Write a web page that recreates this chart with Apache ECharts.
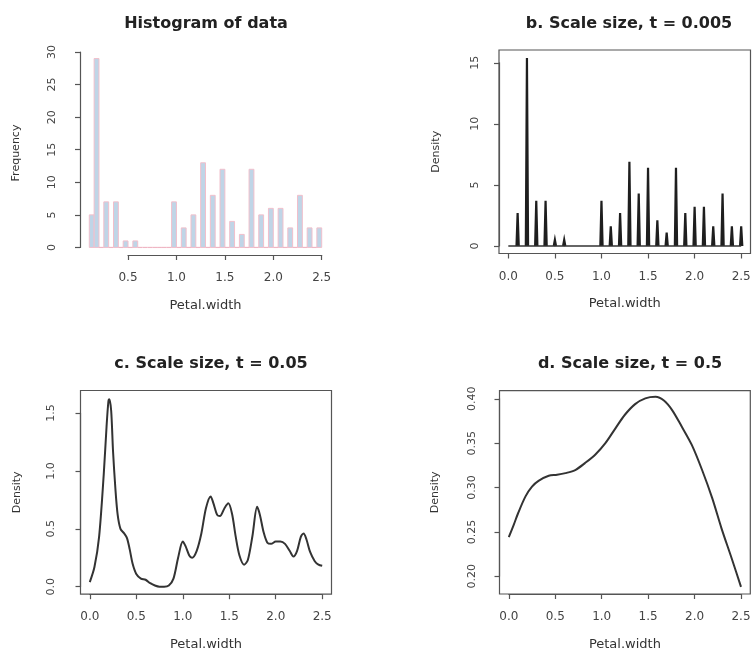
<!DOCTYPE html>
<html>
<head>
<meta charset="utf-8">
<script src="https://cdn.jsdelivr.net/npm/echarts@6/dist/echarts.min.js"></script>
<style>
  html, body { margin: 0; padding: 0; background: #fff; }
  #main { width: 753px; height: 652px; }
</style>
</head>
<body>
<div id="main"></div>
<script>
// iris Petal.width histogram (breaks of 0.05 from 0.1 to 2.5)
var histBreaks = [0.1, 0.15, 0.2, 0.25, 0.3, 0.35, 0.4, 0.45, 0.5, 0.55, 0.6, 0.65, 0.7, 0.75, 0.8, 0.85,
  0.9, 0.95, 1.0, 1.05, 1.1, 1.15, 1.2, 1.25, 1.3, 1.35, 1.4, 1.45, 1.5, 1.55, 1.6, 1.65, 1.7, 1.75,
  1.8, 1.85, 1.9, 1.95, 2.0, 2.05, 2.1, 2.15, 2.2, 2.25, 2.3, 2.35, 2.4, 2.45, 2.5];
var histCounts = [5, 29, 0, 7, 0, 7, 0, 1, 0, 1, 0, 0, 0, 0, 0, 0, 0, 7, 0, 3, 0, 5, 0, 13, 0, 8,
  0, 12, 0, 4, 0, 2, 0, 12, 0, 5, 0, 6, 0, 6, 0, 3, 0, 8, 0, 3, 0, 3];

// b. t = 0.005 : narrow spikes at each distinct value
var bSpikeX = [0.1, 0.2, 0.3, 0.4, 0.5, 0.6, 1.0, 1.1, 1.2, 1.3, 1.4, 1.5, 1.6, 1.7, 1.8, 1.9, 2.0, 2.1, 2.2, 2.3, 2.4, 2.5];
var bSpikeY = [2.7, 15.4, 3.7, 3.7, 0.5, 0.5, 3.7, 1.6, 2.7, 6.9, 4.3, 6.4, 2.1, 1.1, 6.4, 2.7, 3.2, 3.2, 1.6, 4.3, 1.6, 1.6];
var bBaseX = [0, 2.5];
var bBaseY = [0, 0];

// c. t = 0.05
var cX = [0, 0.05, 0.1, 0.15, 0.18, 0.2, 0.21, 0.23, 0.25, 0.275, 0.3, 0.33, 0.37, 0.4, 0.43, 0.46, 0.5,
  0.55, 0.6, 0.65, 0.7, 0.75, 0.8, 0.85, 0.9, 0.95, 1.0, 1.03, 1.07, 1.1, 1.15, 1.2, 1.25, 1.3, 1.33,
  1.37, 1.4, 1.45, 1.49, 1.53, 1.57, 1.61, 1.66, 1.7, 1.75, 1.8, 1.83, 1.87, 1.91, 1.95, 2.0, 2.05,
  2.1, 2.15, 2.19, 2.23, 2.27, 2.3, 2.33, 2.37, 2.42, 2.46, 2.5];
var cY = [0.04, 0.17, 0.43, 0.97, 1.38, 1.6, 1.62, 1.52, 1.17, 0.85, 0.62, 0.5, 0.46, 0.42, 0.32, 0.2, 0.11,
  0.07, 0.06, 0.03, 0.01, 0.0, 0.0, 0.01, 0.07, 0.25, 0.39, 0.35, 0.27, 0.25, 0.31, 0.46, 0.68, 0.78, 0.72,
  0.62, 0.61, 0.68, 0.72, 0.63, 0.43, 0.27, 0.19, 0.23, 0.44, 0.69, 0.62, 0.47, 0.38, 0.37, 0.39, 0.39,
  0.37, 0.31, 0.26, 0.31, 0.43, 0.46, 0.41, 0.3, 0.22, 0.19, 0.18];

// d. t = 0.5
var dX = [0, 0.05, 0.1, 0.18, 0.25, 0.32, 0.43, 0.52, 0.61, 0.72, 0.82, 0.93, 1.04, 1.15, 1.25, 1.36,
  1.47, 1.58, 1.67, 1.76, 1.86, 1.97, 2.08, 2.19, 2.29, 2.4, 2.5];
var dY = [0.244, 0.257, 0.271, 0.29, 0.301, 0.3075, 0.3132, 0.3143, 0.3162, 0.32, 0.3275, 0.337, 0.35,
  0.367, 0.382, 0.394, 0.4005, 0.4022, 0.398, 0.387, 0.369, 0.348, 0.32, 0.288, 0.254, 0.22, 0.188];

var titles = ['Histogram of data', 'b. Scale size, t = 0.005', 'c. Scale size, t = 0.05', 'd. Scale size, t = 0.5'];
var xTitle = 'Petal.width';
var yTitles = ['Frequency', 'Density', 'Density', 'Density'];

function pairs(xs, ys) {
  return xs.map(function (x, i) { return [x, ys[i]]; });
}

var FONT = 'DejaVu Sans';
var INK = '#333';

// plot regions: box [left, top, right, bottom], data limits, tick ranges
var panels = [
  { box: [80, 51, 331, 255], xlim: [0.004, 2.596], ylim: [-1.16, 30.16], xt: [0.5, 2.5, 0.5], yt: [0, 30, 5],
    frame: false, title: [201, 11], yDec: 0, yLabGap: 22, yNameGap: 58 },
  { box: [499, 50, 750.5, 253.5], xlim: [-0.1, 2.6], ylim: [-0.617, 16.05], xt: [0, 2.5, 0.5], yt: [0, 15, 5],
    frame: true, title: [624, 11], yDec: 0, yLabGap: 18, yNameGap: 57 },
  { box: [80.5, 390.5, 331.5, 594.2], xlim: [-0.1, 2.6], ylim: [-0.065, 1.695], xt: [0, 2.5, 0.5], yt: [0, 1.5, 0.5],
    frame: true, title: [206, 351], yDec: 1, yLabGap: 24, yNameGap: 58 },
  { box: [499.5, 390.7, 750.3, 594], xlim: [-0.1, 2.6], ylim: [0.18, 0.4091], xt: [0, 2.5, 0.5], yt: [0.2, 0.4, 0.05],
    frame: true, title: [625, 351], yDec: 2, yLabGap: 22, yNameGap: 59 }
];

var grid = [], xAxis = [], yAxis = [], title = [], series = [];

panels.forEach(function (p, i) {
  var L = p.box[0], T = p.box[1], R = p.box[2], B = p.box[3];
  var px = function (v) { return L + (v - p.xlim[0]) / (p.xlim[1] - p.xlim[0]) * (R - L); };
  var py = function (v) { return B - (v - p.ylim[0]) / (p.ylim[1] - p.ylim[0]) * (B - T); };

  // main grid: data + box + axis titles
  grid.push({ left: L, top: T, width: R - L, height: B - T, show: p.frame, borderColor: '#555', borderWidth: 1.2,
    backgroundColor: 'transparent', outerBoundsMode: 'none' });
  // axis grid: exactly spans the tick range, R style axes
  var ax0 = px(p.xt[0]), ax1 = px(p.xt[1]), ay1 = py(p.yt[1]), ay0 = py(p.yt[0]);
  grid.push({ left: ax0, top: ay1, width: ax1 - ax0, height: ay0 - ay1, show: false, outerBoundsMode: 'none' });

  var mainIdx = 2 * i, auxIdx = 2 * i + 1;
  xAxis.push({
    gridIndex: mainIdx, type: 'value', min: p.xlim[0], max: p.xlim[1],
    axisLine: { show: false }, axisTick: { show: false }, axisLabel: { show: false }, splitLine: { show: false },
    name: xTitle, nameLocation: 'middle', nameGap: 44,
    nameTextStyle: { fontFamily: FONT, fontSize: 13, color: INK }
  });
  yAxis.push({
    gridIndex: mainIdx, type: 'value', min: p.ylim[0], max: p.ylim[1],
    axisLine: { show: false }, axisTick: { show: false }, axisLabel: { show: false }, splitLine: { show: false },
    name: yTitles[i], nameLocation: 'middle', nameGap: p.yNameGap, nameRotate: 90,
    nameTextStyle: { fontFamily: FONT, fontSize: 11, color: INK }
  });
  xAxis.push({
    gridIndex: auxIdx, type: 'value', min: p.xt[0], max: p.xt[1], interval: p.xt[2], position: 'bottom',
    offset: B - ay0,
    axisLine: { show: true, onZero: false, lineStyle: { color: '#555', width: 1.2 } },
    axisTick: { show: true, length: 5, lineStyle: { color: '#555', width: 1.2 } },
    axisLabel: { margin: 17, fontFamily: FONT, fontSize: 12, color: '#444',
      formatter: function (v) { return v.toFixed(1); } },
    splitLine: { show: false }
  });
  yAxis.push({
    gridIndex: auxIdx, type: 'value', min: p.yt[0], max: p.yt[1], interval: p.yt[2], position: 'left',
    offset: ax0 - L,
    axisLine: { show: true, onZero: false, lineStyle: { color: '#555', width: 1.2 } },
    axisTick: { show: true, length: 5, lineStyle: { color: '#555', width: 1.2 } },
    axisLabel: { margin: p.yLabGap, rotate: 90, fontFamily: FONT, fontSize: 11, color: '#444',
      formatter: (function (dec) { return function (v) { return v.toFixed(dec); }; })(p.yDec) },
    splitLine: { show: false }
  });

  title.push({
    text: titles[i], left: p.title[0], top: p.title[1], textAlign: 'center',
    textStyle: { fontFamily: FONT, fontWeight: 'bold', fontSize: 16, color: '#222' }
  });
});

// a. histogram (empty bins show as a pink line on the baseline)
series.push({
  type: 'custom', xAxisIndex: 0, yAxisIndex: 0, clip: false,
  data: histCounts.map(function (c, i) { return [histBreaks[i], histBreaks[i + 1], c]; }),
  encode: { x: [0, 1], y: 2 },
  renderItem: function (params, api) {
    var p0 = api.coord([api.value(0), api.value(2)]);
    var p1 = api.coord([api.value(1), 0]);
    if (api.value(2) === 0) {
      return {
        type: 'line',
        shape: { x1: p0[0], y1: p1[1], x2: p1[0], y2: p1[1] },
        style: { stroke: '#efb6c4', lineWidth: 1.2 }
      };
    }
    return {
      type: 'rect',
      shape: { x: p0[0], y: p0[1], width: p1[0] - p0[0], height: p1[1] - p0[1] },
      style: { fill: '#bfd5e7', stroke: '#f1bfcb', lineWidth: 1 }
    };
  }
});

// b. spikes
series.push({
  type: 'line', xAxisIndex: 2, yAxisIndex: 2, data: pairs(bBaseX, bBaseY), symbol: 'none',
  lineStyle: { color: '#333', width: 1.5 }
});
series.push({
  type: 'custom', xAxisIndex: 2, yAxisIndex: 2,
  data: pairs(bSpikeX, bSpikeY),
  renderItem: function (params, api) {
    var x = api.value(0), h = api.value(1);
    return {
      type: 'polyline',
      shape: { points: [api.coord([x - 0.012, 0]), api.coord([x, h]), api.coord([x + 0.012, 0])] },
      style: { stroke: '#1e1e1e', lineWidth: 2.2, fill: null }
    };
  }
});

// c and d. smooth density curves
series.push({
  type: 'line', xAxisIndex: 4, yAxisIndex: 4, data: pairs(cX, cY), symbol: 'none', smooth: 0.3,
  lineStyle: { color: '#333', width: 2 }
});
series.push({
  type: 'line', xAxisIndex: 6, yAxisIndex: 6, data: pairs(dX, dY), symbol: 'none', smooth: 0.3,
  lineStyle: { color: '#333', width: 2 }
});

var chart = echarts.init(document.getElementById('main'), null, { renderer: 'canvas' });
chart.setOption({
  backgroundColor: '#fff',
  animation: false,
  title: title,
  grid: grid,
  xAxis: xAxis,
  yAxis: yAxis,
  series: series
});
</script>
</body>
</html>
